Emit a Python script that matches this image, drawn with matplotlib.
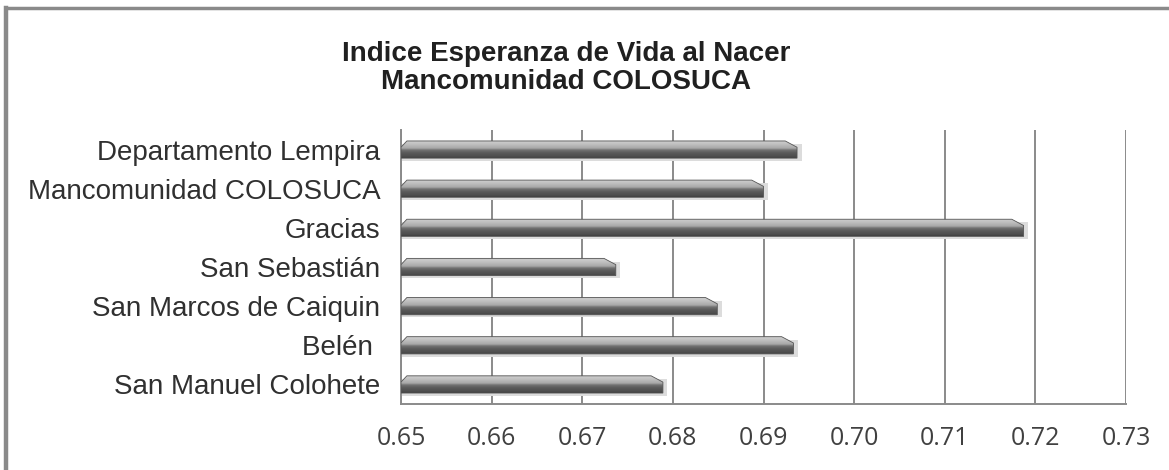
import matplotlib.pyplot as plt
import numpy as np
from matplotlib.patches import Polygon
from matplotlib.lines import Line2D

#------------------------------data------------------------------
categories = ['Departamento Lempira', 'Mancomunidad COLOSUCA', 'Gracias',
              'San Sebastián', 'San Marcos de Caiquin', 'Belén ',
              'San Manuel Colohete']
values = [0.6937, 0.6900, 0.7187, 0.6737, 0.6849, 0.6933, 0.6789]
xticks = [0.65, 0.66, 0.67, 0.68, 0.69, 0.70, 0.71, 0.72, 0.73]
title = 'Indice Esperanza de Vida al Nacer\nMancomunidad COLOSUCA'

#------------------------------figure------------------------------
DPI = 100
fig = plt.figure(figsize=(1169/DPI, 470/DPI), dpi=DPI)
ax = fig.add_axes([401/1169, 1 - 404/470, 725/1169, 274/470])

x0 = xticks[0]
n = len(categories)
ypos = np.arange(n)[::-1]
h = 0.44

# vertical shading of the bars (bottom -> top), purely cosmetic
stops = [0.0, 0.08, 0.30, 0.45, 0.55, 0.80, 0.92, 1.0]
shade = [0.25, 0.30, 0.36, 0.45, 0.66, 0.76, 0.80, 0.70]
grad = np.interp(np.linspace(0, 1, 64), stops, shade).reshape(-1, 1)

for y, v in zip(ypos, values):
    # soft shadow
    sh = Polygon([(x0, y - h/2 - 0.07), (v + 0.0005, y - h/2 - 0.07),
                  (v + 0.0005, y + h/2 - 0.08), (x0, y + h/2 - 0.08)],
                 closed=True, facecolor='#dcdcdc', edgecolor='none', zorder=2)
    ax.add_patch(sh)
    bev = 0.0013
    poly = Polygon([(x0, y - h/2), (v, y - h/2), (v, y + h/2 - 0.16),
                    (v - bev, y + h/2), (x0 + bev*0.5, y + h/2),
                    (x0, y + h/2 - 0.16)],
                   closed=True, facecolor='none', edgecolor='#555555',
                   linewidth=0.6, zorder=4)
    ax.add_patch(poly)
    im = ax.imshow(grad, cmap='gray', vmin=0, vmax=1, origin='lower',
                   extent=[x0, v, y - h/2, y + h/2], aspect='auto',
                   interpolation='bilinear', zorder=3)
    im.set_clip_path(poly)

ax.set_xlim(xticks[0], xticks[-1])
ax.set_ylim(-0.5, n - 0.5)
ax.set_aspect('auto')

ax.set_xticks(xticks)
ax.set_xticklabels([f'{t:.2f}' for t in xticks], fontsize=18,
                   family='Open Sans', color='#404040')
ax.set_yticks(ypos)
ax.set_yticklabels(categories, fontsize=20, family='Liberation Sans',
                   color='#303030')
ax.tick_params(axis='y', length=0, pad=15)
ax.tick_params(axis='x', length=0, pad=16)

ax.grid(axis='x', color='#8a8a8a', linewidth=1.4, zorder=1)
ax.set_axisbelow(True)
for s in ['top', 'right']:
    ax.spines[s].set_visible(False)
ax.spines['left'].set_color('#8a8a8a')
ax.spines['bottom'].set_color('#8a8a8a')
ax.spines['left'].set_linewidth(1.4)
ax.spines['bottom'].set_linewidth(1.4)

fig.text(566/1169, 1 - 68/470, title, ha='center', va='center',
         fontsize=20, fontweight='bold', family='Liberation Sans',
         color='#202020', linespacing=1.12)

# outer frame (top and left only)
fig.add_artist(Line2D([6/1169, 1], [1 - 8/470, 1 - 8/470], color='#8a8a8a',
                      linewidth=2.5, transform=fig.transFigure))
fig.add_artist(Line2D([6/1169, 6/1169], [0, 1 - 8/470], color='#8a8a8a',
                      linewidth=3.2, transform=fig.transFigure))

plt.savefig('out.png', dpi=DPI)
